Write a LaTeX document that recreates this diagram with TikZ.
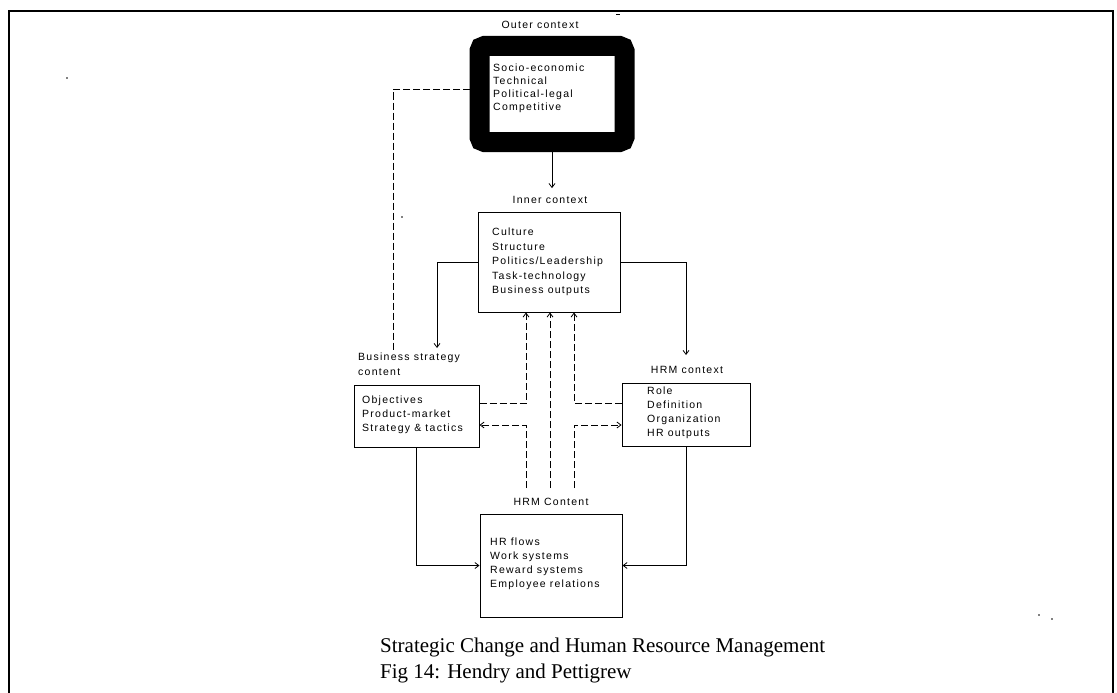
\documentclass[tikz,border=0pt]{standalone}
\usepackage{fontspec}
\setmainfont{Liberation Serif}
\newfontfamily\diagfont{Liberation Sans}[LetterSpace=12]
\usetikzlibrary{arrows.meta}
\begin{document}
\begin{tikzpicture}[x=1pt,y=-1pt,
  lbl/.style={font=\diagfont\fontsize{10.5}{14.5}\selectfont, inner sep=0pt},
  txt/.style={lbl, align=left, anchor=west},
  box/.style={draw, line width=1pt, inner sep=0pt},
  link/.style={line width=0.8pt, -{Straight Barb[length=4pt,width=6pt]}},
  dashlink/.style={link, dash pattern=on 7pt off 3pt},
  dashplain/.style={line width=0.8pt, dash pattern=on 7pt off 3pt},
  speck/.style={fill=black}
]
\useasboundingbox (0,0) rectangle (1117,693);
\fill[white] (0,0) rectangle (1117,693);

% page frame
\draw[line width=2.5pt] (9,705) -- (9,11) -- (1113,11) -- (1113,705);

% outer context: heavy inked frame
\node[lbl] (outerlab) at (540,25) {Outer context};
\node[draw, line width=20pt, rounded corners=5pt, minimum width=145pt,
      minimum height=96pt, inner sep=0pt] (outer) at (552,94) {};
\node[txt, font=\diagfont\fontsize{10.5}{13}\selectfont] (outertxt) at (493,88.5)
  {Socio-economic\\Technical\\Political-legal\\Competitive};

% inner context
\node[lbl] (innerlab) at (550,200) {Inner context};
\node[box, minimum width=142pt, minimum height=100pt] (inner) at (549,262) {};
\node[txt] (innertxt) at (492,262)
  {Culture\\Structure\\Politics/Leadership\\Task-technology\\Business outputs};

% business strategy content
\node[txt, font=\diagfont\fontsize{10.5}{15}\selectfont] (bslab) at (358,364.5)
  {Business strategy\\content};
\node[box, minimum width=125pt, minimum height=62pt] (bs) at (416.5,416) {};
\node[txt, font=\diagfont\fontsize{10.5}{14}\selectfont] (bstxt) at (362,415)
  {Objectives\\Product-market\\Strategy \& tactics};

% HRM context
\node[lbl] (hctxlab) at (687,370) {HRM context};
\node[box, minimum width=128pt, minimum height=63pt] (hctx) at (686,414.5) {};
\node[txt, font=\diagfont\fontsize{10.5}{14}\selectfont] (hctxtxt) at (647,413)
  {Role\\Definition\\Organization\\HR outputs};

% HRM content
\node[lbl] (hconlab) at (551,502) {HRM Content};
\node[box, minimum width=142pt, minimum height=103pt] (hcon) at (551,565.5) {};
\node[txt, font=\diagfont\fontsize{10.5}{14}\selectfont] (hcontxt) at (490,564)
  {HR flows\\Work systems\\Reward systems\\Employee relations};

% junction points
\coordinate (yd) at (0,89);
\coordinate (dashend) at (393,350);
\coordinate (bsin) at (437,348);
\coordinate (hctxin) at (686,355);
\coordinate (upY) at (0,403);
\coordinate (loY) at (0,425);
\coordinate (botY) at (0,488);
\coordinate (xa) at (526,0);
\coordinate (xb) at (550,0);
\coordinate (xc) at (574,0);

% solid links
\draw[link, shorten >=8pt] (outer.south) -- (outer.south |- innerlab.north);
\draw[link] (inner.west) -| (bsin);
\draw[link] (inner.east) -| (hctxin);
\draw[link] (bs.south) |- (hcon.west);
\draw[link] (hctx.south) |- (hcon.east);

% dashed links
\draw[dashplain] (outer.west |- yd) -| (dashend);
\draw[dashlink] (bs.east |- upY) -| (inner.south -| xa);
\draw[dashlink] (xa |- botY) |- (bs.east |- loY);
\draw[dashlink] (xb |- botY) -- (inner.south -| xb);
\draw[dashlink] (hctx.west |- upY) -| (inner.south -| xc);
\draw[dashlink] (xc |- botY) |- (hctx.west |- loY);

% caption
\node[anchor=west, align=left, inner sep=0pt, font=\fontsize{21}{26}\selectfont]
  (cap) at (380,660)
  {Strategic Change and Human Resource Management\\Fig 14: Hendry and Pettigrew};

% specks of ink
\fill[speck] (67,78) circle (0.9);
\fill[speck] (402,217) circle (0.9);
\fill[speck] (1039,615) circle (0.8);
\fill[speck] (1052,619) circle (0.8);
\fill[speck] (616,14.5) rectangle (620,15.5);
\end{tikzpicture}
\end{document}
